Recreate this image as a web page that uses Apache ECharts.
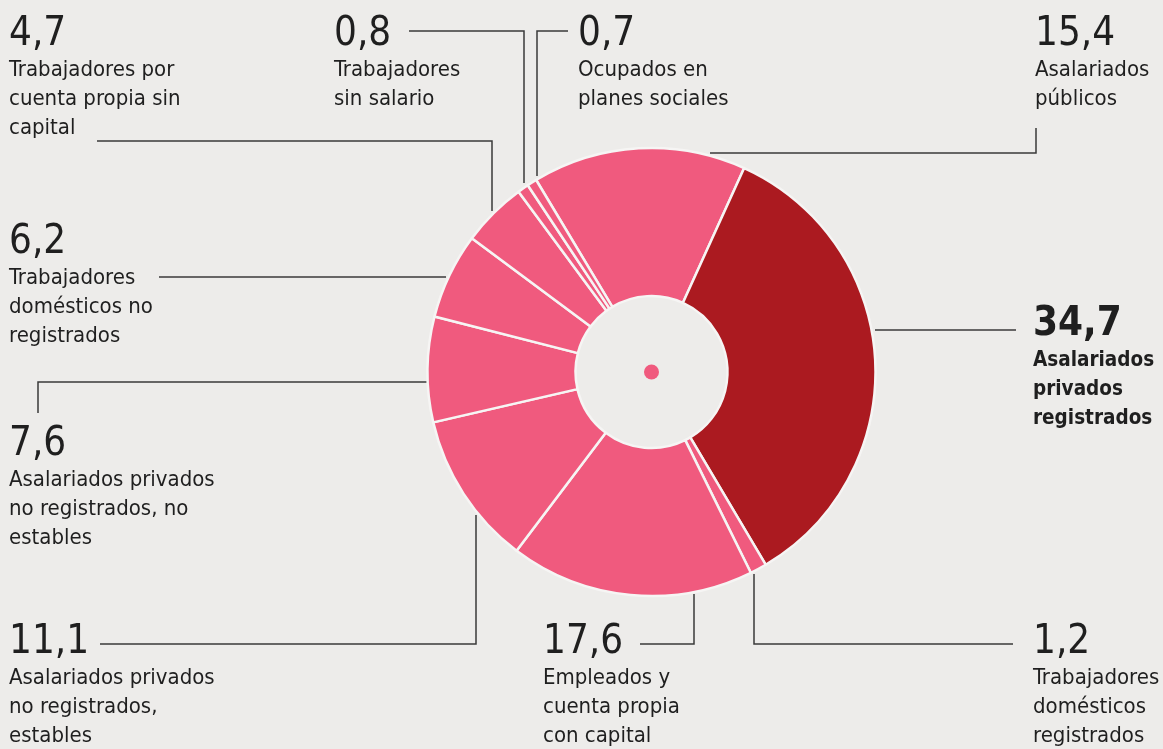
<!DOCTYPE html>
<html>
<head>
<meta charset="utf-8">
<script src="https://cdn.jsdelivr.net/npm/echarts@6/dist/echarts.min.js"></script>
<style>
  html, body { margin: 0; padding: 0; background: #edecea; }
  #chart { width: 1163px; height: 749px; }
</style>
</head>
<body>
<div id="chart"></div>
<script>
// categories in clockwise order, starting at the top-left boundary
const categories = [
  'Asalariados\npúblicos',
  'Asalariados\nprivados\nregistrados',
  'Trabajadores\ndomésticos\nregistrados',
  'Empleados y\ncuenta propia\ncon capital',
  'Asalariados privados\nno registrados,\nestables',
  'Asalariados privados\nno registrados, no\nestables',
  'Trabajadores\ndomésticos no\nregistrados',
  'Trabajadores por\ncuenta propia sin\ncapital',
  'Trabajadores\nsin salario',
  'Ocupados en\nplanes sociales'
]
const values = [15.4, 34.7, 1.2, 17.6, 11.1, 7.6, 6.2, 4.7, 0.8, 0.7]
const highlight = 1

// label anchor: [left x, baseline of the big number]
const labelPos = [
  [1035, 47], [1033, 337], [1033, 655], [543, 655], [9, 655],
  [9, 457], [9, 255], [9, 47], [334, 47], [578, 47]
]
// leader lines: slice edge -> elbow -> label
const linePoints = [
  [[710, 153], [1036, 153], [1036, 128]],
  [[875, 330], [946, 330], [1016, 330]],
  [[754, 574], [754, 644], [1013, 644]],
  [[694, 594], [694, 644], [640, 644]],
  [[476, 515], [476, 644], [100, 644]],
  [[427, 382], [38, 382], [38, 413]],
  [[446, 277], [303, 277], [159, 277]],
  [[492, 211], [492, 141], [97, 141]],
  [[524, 183], [524, 31], [409, 31]],
  [[537, 176], [537, 31], [568, 31]]
]

const PINK = '#f05a7e'
const RED = '#ab1a20'
const FONT = "'Liberation Sans Narrow', 'DejaVu Sans Condensed', sans-serif"

const chart = echarts.init(document.getElementById('chart'))

function fmt(v) {
  return v.toFixed(1).replace('.', ',')
}

chart.setOption({
  backgroundColor: '#edecea',
  animation: false,
  graphic: [
    {
      type: 'circle',
      shape: { cx: 651.5, cy: 372, r: 7.5 },
      style: { fill: PINK },
      silent: true
    }
  ],
  series: [
    {
      type: 'pie',
      center: [651.5, 372],
      radius: [76, 224],
      startAngle: 121,
      clockwise: true,
      avoidLabelOverlap: false,
      emphasis: { disabled: true },
      itemStyle: { borderColor: '#f6f5f4', borderWidth: 2.5 },
      data: values.map((v, i) => ({
        name: categories[i],
        value: v,
        itemStyle: { color: i === highlight ? RED : PINK }
      })),
      label: {
        show: true,
        fontFamily: FONT,
        color: '#1f1f1f',
        formatter: (p) => {
          const b = p.dataIndex === highlight
          const lines = categories[p.dataIndex].split('\n')
          const n = b ? 'nb' : 'n'
          const t = b ? 'tb' : 't'
          return `{${n}|${fmt(p.value)}}\n` + lines.map((l) => `{${t}|${l}}`).join('\n')
        },
        rich: {
          n: { fontFamily: FONT, fontSize: 40, lineHeight: 42, color: '#1f1f1f' },
          nb: { fontFamily: FONT, fontSize: 40, lineHeight: 42, fontWeight: 'bold', color: '#1f1f1f' },
          t: { fontFamily: FONT, fontSize: 22, lineHeight: 29, color: '#1f1f1f' },
          tb: { fontFamily: FONT, fontSize: 20.5, lineHeight: 29, fontWeight: 'bold', color: '#1f1f1f' }
        }
      },
      labelLine: {
        show: true,
        smooth: false,
        lineStyle: { color: '#3a3a3a', width: 1.5 }
      },
      labelLayout: (p) => {
        const i = p.dataIndex
        const [x, base] = labelPos[i]
        return {
          x,
          y: base - 33,
          align: 'left',
          verticalAlign: 'top',
          labelLinePoints: linePoints[i]
        }
      }
    }
  ]
})
</script>
</body>
</html>
